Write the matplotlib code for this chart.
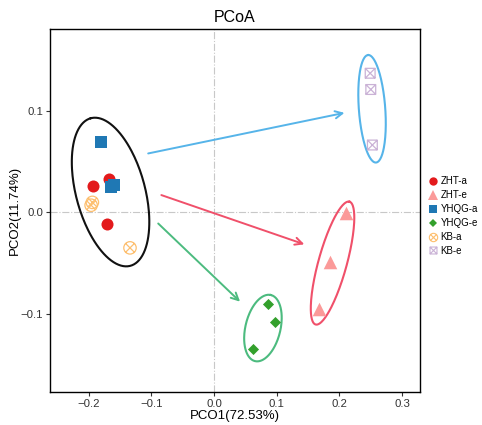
import numpy as np
import matplotlib
matplotlib.use('Agg')
import matplotlib.pyplot as plt
from matplotlib.path import Path
from matplotlib.lines import Line2D

plt.rcParams['font.family'] = ['Liberation Sans', 'DejaVu Sans']

# PCoA coordinates
zht_a_x = [-0.193, -0.167, -0.170]
zht_a_y = [0.026, 0.033, -0.0115]
zht_e_x = [0.210, 0.185, 0.168]
zht_e_y = [-0.001, -0.049, -0.095]
yhqg_a_x = [-0.181, -0.164, -0.160]
yhqg_a_y = [0.069, 0.025, 0.027]
yhqg_e_x = [0.0867, 0.0973, 0.0617]
yhqg_e_y = [-0.0907, -0.108, -0.1347]
kb_a_x = [-0.194, -0.196, -0.134]
kb_a_y = [0.0098, 0.007, -0.035]
kb_e_x = [0.249, 0.250, 0.2525]
kb_e_y = [0.137, 0.121, 0.0663]

groups = ['ZHT-a', 'ZHT-e', 'YHQG-a', 'YHQG-e', 'KB-a', 'KB-e']
colors = ['#E31A1C', '#FB9A99', '#1F78B4', '#33A02C', '#FDBF6F', '#CAB2D6']

# arrows: start -> end (data units)
arrow_start_x = [-0.105, -0.084, -0.089]
arrow_start_y = [0.058, 0.017, -0.011]
arrow_end_x = [0.208, 0.144, 0.0415]
arrow_end_y = [0.098, -0.0315, -0.088]
arrow_colors = ['#56B4E9', '#F0506A', '#4CBB7F']

# ellipses: centre (data), semi axes (px), angle (deg)
ell_cx = [-0.165, 0.252, 0.189, 0.078]
ell_cy = [0.020, 0.102, -0.050, -0.114]
ell_a = [76.4, 53.9, 63.7, 34.0]
ell_b = [34.5, 13.2, 14.2, 17.5]
ell_ang = [105, 94.2, 74.6, 76.5]
ell_colors = ['#111111', '#56B4E9', '#F0506A', '#4CBB7F']

# custom markers
diag = 0.7
circ_x = Path.make_compound_path(
    Path.unit_circle(),
    Path([(-diag, -diag), (diag, diag)], [Path.MOVETO, Path.LINETO]),
    Path([(-diag, diag), (diag, -diag)], [Path.MOVETO, Path.LINETO]))
sq_x = Path([(-1, -1), (1, -1), (1, 1), (-1, 1), (-1, -1),
             (-1, -1), (1, 1), (-1, 1), (1, -1)],
            [1, 2, 2, 2, 79, 1, 2, 1, 2])

fig = plt.figure(figsize=(4.82, 4.25), dpi=100)
ax = fig.add_axes([0.1037, 0.0776, 0.7677, 0.8542])
ax.set_xlim(-0.2616, 0.3285)
ax.set_ylim(-0.177, 0.1806)

ax.axhline(0, color='#C8C8C8', lw=0.8, ls='-.', zorder=0)
ax.axvline(0, color='#C8C8C8', lw=0.8, ls='-.', zorder=0)

# ellipses drawn in pixel space then mapped back to data
fig.canvas.draw()
p0 = ax.transData.transform((0, 0))
p1 = ax.transData.transform((1, 1))
sx, sy = p1[0] - p0[0], p1[1] - p0[1]
t = np.linspace(0, 2 * np.pi, 200)
for cx, cy, a, b, ang, c in zip(ell_cx, ell_cy, ell_a, ell_b, ell_ang, ell_colors):
    th = np.deg2rad(ang)
    px = a * np.cos(t) * np.cos(th) - b * np.sin(t) * np.sin(th)
    py = a * np.cos(t) * np.sin(th) + b * np.sin(t) * np.cos(th)
    ax.plot(cx + px / sx, cy + py / sy, color=c, lw=1.5, zorder=2)

for i in range(3):
    ax.annotate('', xy=(arrow_end_x[i], arrow_end_y[i]),
                xytext=(arrow_start_x[i], arrow_start_y[i]),
                arrowprops=dict(arrowstyle='->', color=arrow_colors[i], lw=1.4,
                                mutation_scale=13, shrinkA=0, shrinkB=0))

ax.scatter(zht_a_x, zht_a_y, marker='o', s=75, color=colors[0], lw=0, zorder=3)
ax.scatter(zht_e_x, zht_e_y, marker='^', s=95, color=colors[1], lw=0, zorder=3)
ax.scatter(yhqg_a_x, yhqg_a_y, marker='s', s=70, color=colors[2], lw=0, zorder=3)
ax.scatter(yhqg_e_x, yhqg_e_y, marker='D', s=32, color=colors[3], lw=0, zorder=3)
ax.scatter(kb_a_x, kb_a_y, marker=circ_x, s=80, facecolor='none',
           edgecolor=colors[4], lw=0.9, zorder=3)
ax.scatter(kb_e_x, kb_e_y, marker=sq_x, s=50, facecolor='none',
           edgecolor=colors[5], lw=0.9, zorder=3)

ax.set_xticks([-0.2, -0.1, 0.0, 0.1, 0.2, 0.3])
ax.set_xticklabels(['\u22120.2', '\u22120.1', '0.0', '0.1', '0.2', '0.3'])
ax.set_yticks([-0.1, 0.0, 0.1])
ax.set_yticklabels(['\u22120.1', '0.0', '0.1'])
ax.tick_params(length=3, width=0.8, color='#333333', labelsize=8.2,
               labelcolor='#333333', pad=2)
for s in ax.spines.values():
    s.set_linewidth(1.0)
ax.set_xlabel('PCO1(72.53%)', fontsize=9.5, labelpad=1)
ax.set_ylabel('PCO2(11.74%)', fontsize=9.5, labelpad=0)
ax.set_title('PCoA', fontsize=11.5, pad=5)

handles = [
    Line2D([], [], ls='', marker='o', ms=6, color=colors[0], mew=0),
    Line2D([], [], ls='', marker='^', ms=7, color=colors[1], mew=0),
    Line2D([], [], ls='', marker='s', ms=6, color=colors[2], mew=0),
    Line2D([], [], ls='', marker='D', ms=4.5, color=colors[3], mew=0),
    Line2D([], [], ls='', marker=circ_x, ms=6, mfc='none', mec=colors[4], mew=0.8),
    Line2D([], [], ls='', marker=sq_x, ms=5, mfc='none', mec=colors[5], mew=0.8),
]
fig.legend(handles, groups, loc='upper left', bbox_to_anchor=(0.889, 0.585),
           frameon=False, fontsize=7, handlelength=0.9, handletextpad=0.35,
           labelspacing=0.4, borderpad=0, borderaxespad=0)

fig.savefig('out.png', dpi=100)
